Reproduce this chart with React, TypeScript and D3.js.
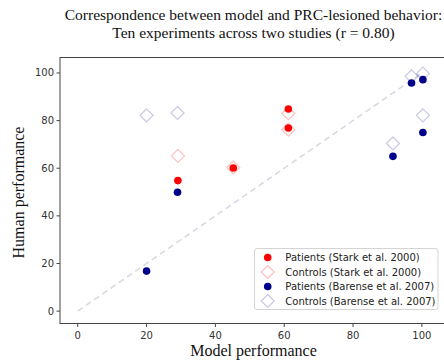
import React from 'react';
import * as d3 from 'd3';

// model performance (x) and human performance (y) per experiment
const starkModel = [29.1, 45.2, 61.2, 61.2];
const starkPatients = [54.8, 60.1, 84.9, 76.9];
const starkControls = [65.2, 60.3, 83.0, 76.2];

const barenseModel = [20, 29, 91.6, 97, 100.3, 100.3];
const barensePatients = [16.8, 49.9, 65, 95.8, 97.2, 75];
const barenseControls = [82.2, 83.2, 70.4, 98.6, 99.7, 82.2];

const xTicks = [0, 20, 40, 60, 80, 100];
const yTicks = [0, 20, 40, 60, 80, 100];
const identity = [0, 100];

const legendItems = [
  { label: 'Patients (Stark et al. 2000)', kind: 'dot', color: '#ff0000' },
  { label: 'Controls (Stark et al. 2000)', kind: 'diamond', color: 'rgba(255,0,0,0.25)' },
  { label: 'Patients (Barense et al. 2007)', kind: 'dot', color: '#00008b' },
  { label: 'Controls (Barense et al. 2007)', kind: 'diamond', color: 'rgba(0,0,139,0.22)' },
];

const W = 444;
const H = 360;
const plot = { left: 60, right: 447, top: 57.5, bottom: 323.5 };

const diamond = (cx: number, cy: number, r: number) =>
  `M${cx},${cy - r}L${cx + r},${cy}L${cx},${cy + r}L${cx - r},${cy}Z`;

const App = () => {
  const x = d3.scaleLinear().domain([-5.15, 107.3]).range([plot.left, plot.right]);
  const y = d3.scaleLinear().domain([-5.2, 106.5]).range([plot.bottom, plot.top]);

  const line = d3.line<number>().x(d => x(d)).y(d => y(d));

  const serif = '"Liberation Serif", "Times New Roman", serif';
  const sans = '"DejaVu Sans", sans-serif';
  const cx = (plot.left + plot.right) / 2;

  const controls = [
    ...starkModel.map((m, i) => ({ m, v: starkControls[i], c: legendItems[1].color })),
    ...barenseModel.map((m, i) => ({ m, v: barenseControls[i], c: legendItems[3].color })),
  ];
  const patients = [
    ...starkModel.map((m, i) => ({ m, v: starkPatients[i], c: legendItems[0].color })),
    ...barenseModel.map((m, i) => ({ m, v: barensePatients[i], c: legendItems[2].color })),
  ];

  const lg = { x: 254.5, y: 248.5, w: 183.5, h: 61 };

  return (
    <svg width={W} height={H} style={{ position: 'absolute', left: 0, top: 0, background: '#fff' }}>
      <text x={cx} y={20} textAnchor="middle" fontFamily={serif} fontSize={15.5} fill="#111">
        Correspondence between model and PRC-lesioned behavior:
      </text>
      <text x={cx} y={37.5} textAnchor="middle" fontFamily={serif} fontSize={15.5} fill="#111">
        Ten experiments across two studies (r = 0.80)
      </text>

      {/* frame */}
      <rect x={plot.left} y={plot.top} width={plot.right - plot.left} height={plot.bottom - plot.top}
        fill="none" stroke="#444" strokeWidth={1} />

      {/* identity line */}
      <path d={line(identity) || ''} fill="none" stroke="#d9d9e3" strokeWidth={1.6} strokeDasharray="6,4" />

      {/* x ticks */}
      {xTicks.map(t => (
        <g key={'x' + t}>
          <line x1={x(t)} x2={x(t)} y1={plot.bottom} y2={plot.bottom + 3.5} stroke="#444" />
          <text x={x(t)} y={plot.bottom + 15} textAnchor="middle" fontFamily={sans} fontSize={10} fill="#333">{t}</text>
        </g>
      ))}
      {/* y ticks */}
      {yTicks.map(t => (
        <g key={'y' + t}>
          <line x1={plot.left - 3.5} x2={plot.left} y1={y(t)} y2={y(t)} stroke="#444" />
          <text x={plot.left - 6} y={y(t) + 3.5} textAnchor="end" fontFamily={sans} fontSize={10} fill="#333">{t}</text>
        </g>
      ))}

      <text x={cx} y={356} textAnchor="middle" fontFamily={serif} fontSize={16} fill="#111">Model performance</text>
      <text transform={`translate(24,${(plot.top + plot.bottom) / 2 + 2}) rotate(-90)`} textAnchor="middle"
        fontFamily={serif} fontSize={16} fill="#111">Human performance</text>

      {controls.map((d, i) => (
        <path key={'c' + i} d={diamond(x(d.m), y(d.v), 6.5)} fill="none" stroke={d.c} strokeWidth={1.2} />
      ))}
      {patients.map((d, i) => (
        <circle key={'p' + i} cx={x(d.m)} cy={y(d.v)} r={3.8} fill={d.c} />
      ))}

      {/* legend */}
      <rect x={lg.x} y={lg.y} width={lg.w} height={lg.h} rx={2.5} fill="rgba(255,255,255,0.85)" stroke="#d4d4d4" strokeWidth={1} />
      {legendItems.map((it, i) => {
        const ry = lg.y + 9 + i * 14.5;
        const mx = 267.7;
        return (
          <g key={it.label}>
            {it.kind === 'dot'
              ? <circle cx={mx} cy={ry} r={3.8} fill={it.color} />
              : <path d={diamond(mx, ry, 6.5)} fill="none" stroke={it.color} strokeWidth={1.2} />}
            <text x={285.3} y={ry + 3.6} fontFamily={sans} fontSize={10} fill="#222">{it.label}</text>
          </g>
        );
      })}
    </svg>
  );
};

export default App;
